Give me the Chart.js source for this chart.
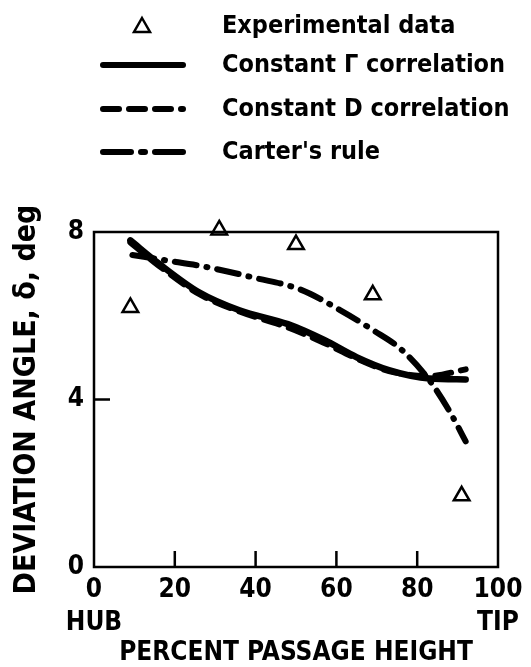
<!DOCTYPE html>
<html>
<head>
<meta charset="utf-8">
<script src="https://cdn.jsdelivr.net/npm/chart.js@4.4.0/dist/chart.umd.min.js"></script>
<style>
  html, body { margin: 0; padding: 0; background: #fff; }
  #wrap { width: 531px; height: 667px; }
</style>
</head>
<body>
<div id="wrap"><canvas id="deviation-chart" width="531" height="667"></canvas></div>
<script>
const FONT = '"Liberation Sans Narrow", "DejaVu Sans Condensed", "Liberation Sans", sans-serif';

// axis ticks
const xTicks = [0, 20, 40, 60, 80, 100];
const xTickLabels = [['0', 'HUB'], '20', '40', '60', '80', ['100', 'TIP']];
const yTicks = [0, 4, 8];

// experimental data (triangles)
const expHeight = [9, 31, 50, 69, 91];
const expDeviation = [6.2, 8.05, 7.7, 6.5, 1.7];

// constant gamma correlation (solid)
const gammaHeight = [9, 16, 26, 36, 48, 57, 65, 73, 83, 92];
const gammaDeviation = [7.8, 7.25, 6.56, 6.13, 5.8, 5.42, 5.01, 4.7, 4.5, 4.48];

// constant D correlation (dashed)
const dHeight = [9, 16, 26, 36, 48, 57, 65, 73, 83, 92];
const dDeviation = [7.75, 7.2, 6.52, 6.1, 5.72, 5.35, 4.98, 4.68, 4.56, 4.72];

// Carter's rule (dash-dot)
const carterHeight = [9.5, 18, 28, 40, 51, 61, 69, 76, 83, 88, 92];
const carterDeviation = [7.45, 7.32, 7.16, 6.9, 6.63, 6.13, 5.66, 5.2, 4.46, 3.72, 3.0];

const legendLabels = ['Experimental data', 'Constant \u0393 correlation', 'Constant D correlation', "Carter's rule"];

const toPoints = (xs, ys) => xs.map((x, i) => ({ x: x, y: ys[i] }));

// legend drawn by hand, one row per dataset
const legendRows = [26, 65, 109, 152];
const handLegend = {
    id: 'handLegend',
    afterDraw(chart) {
        const ctx = chart.ctx;
        ctx.save();
        chart.data.datasets.forEach((ds, i) => {
            const y = legendRows[i];
            if (ds.showLine === false) {
                ctx.beginPath();
                ctx.moveTo(142, y - 8);
                ctx.lineTo(150, y + 6);
                ctx.lineTo(134, y + 6);
                ctx.closePath();
                ctx.lineWidth = 2.5;
                ctx.strokeStyle = '#000';
                ctx.stroke();
            } else {
                ctx.beginPath();
                ctx.setLineDash(ds.legendDash || []);
                ctx.lineCap = 'round';
                ctx.lineWidth = 6;
                ctx.strokeStyle = '#000';
                ctx.moveTo(103, y);
                ctx.lineTo(183, y);
                ctx.stroke();
                ctx.setLineDash([]);
            }
            ctx.fillStyle = '#000';
            ctx.font = 'bold 25px ' + FONT;
            ctx.textBaseline = 'middle';
            ctx.textAlign = 'left';
            ctx.fillText(legendLabels[i], 222, y);
        });
        ctx.restore();
    }
};

// frame and inward tick marks
const frame = {
    id: 'frame',
    afterDatasetsDraw(chart) {
        const { ctx, chartArea: a, scales } = chart;
        ctx.save();
        ctx.strokeStyle = '#000';
        ctx.lineWidth = 2.5;
        ctx.strokeRect(a.left, a.top, a.right - a.left, a.bottom - a.top);
        ctx.beginPath();
        xTicks.slice(1, -1).forEach((v) => {
            const px = scales.x.getPixelForValue(v);
            ctx.moveTo(px, a.bottom);
            ctx.lineTo(px, a.bottom - 16);
        });
        yTicks.slice(1, -1).forEach((v) => {
            const py = scales.y.getPixelForValue(v);
            ctx.moveTo(a.left, py);
            ctx.lineTo(a.left + 16, py);
        });
        ctx.stroke();
        ctx.restore();
    }
};

const ctx = document.getElementById('deviation-chart').getContext('2d');
new Chart(ctx, {
    type: 'scatter',
    data: {
        datasets: [
            {
                label: legendLabels[0],
                data: toPoints(expHeight, expDeviation),
                showLine: false,
                pointStyle: 'triangle',
                pointRadius: 9,
                pointBorderWidth: 2.5,
                pointBackgroundColor: '#fff',
                pointBorderColor: '#000',
                clip: false,
            },
            {
                label: legendLabels[1],
                data: toPoints(gammaHeight, gammaDeviation),
                showLine: true,
                borderColor: '#000',
                borderWidth: 6.5,
                borderCapStyle: 'round',
                pointRadius: 0,
                cubicInterpolationMode: 'monotone',
                legendDash: [],
            },
            {
                label: legendLabels[2],
                data: toPoints(dHeight, dDeviation),
                showLine: true,
                borderColor: '#000',
                borderWidth: 6,
                borderCapStyle: 'round',
                borderDash: [16, 10],
                pointRadius: 0,
                cubicInterpolationMode: 'monotone',
                legendDash: [16, 10],
            },
            {
                label: legendLabels[3],
                data: toPoints(carterHeight, carterDeviation),
                showLine: true,
                borderColor: '#000',
                borderWidth: 6,
                borderCapStyle: 'round',
                borderDash: [22, 10, 1, 10],
                pointRadius: 0,
                cubicInterpolationMode: 'monotone',
                legendDash: [28, 10, 4, 10],
            },
        ],
    },
    options: {
        responsive: false,
        animation: false,
        layout: { padding: { top: 232, left: 0, right: 33, bottom: 0 } },
        plugins: {
            legend: { display: false },
            tooltip: { enabled: false },
        },
        scales: {
            x: {
                type: 'linear',
                min: 0,
                max: 100,
                afterFit: (scale) => { scale.height = 100; },
                afterBuildTicks: (scale) => { scale.ticks = xTicks.map((v) => ({ value: v })); },
                ticks: {
                    color: '#000',
                    padding: -2,
                    maxRotation: 0,
                    font: { family: FONT, size: 26, weight: 'bold', lineHeight: 1.3 },
                    callback: (value) => xTickLabels[xTicks.indexOf(value)],
                },
                grid: { display: false },
                border: { display: false },
                title: {
                    display: true,
                    text: 'PERCENT PASSAGE HEIGHT',
                    color: '#000',
                    padding: { top: 0, bottom: -2 },
                    font: { family: FONT, size: 26, weight: 'bold' },
                },
            },
            y: {
                type: 'linear',
                min: 0,
                max: 8,
                afterFit: (scale) => { scale.width = 94; },
                afterBuildTicks: (scale) => { scale.ticks = yTicks.map((v) => ({ value: v })); },
                ticks: {
                    color: '#000',
                    padding: 2,
                    font: { family: FONT, size: 26, weight: 'bold' },
                },
                grid: { display: false },
                border: { display: false },
                title: {
                    display: true,
                    text: 'DEVIATION ANGLE, \u03b4, deg',
                    color: '#000',
                    padding: { top: 9, bottom: 0 },
                    font: { family: FONT, size: 30, weight: 'bold' },
                },
            },
        },
    },
    plugins: [handLegend, frame],
});
</script>
</body>
</html>
